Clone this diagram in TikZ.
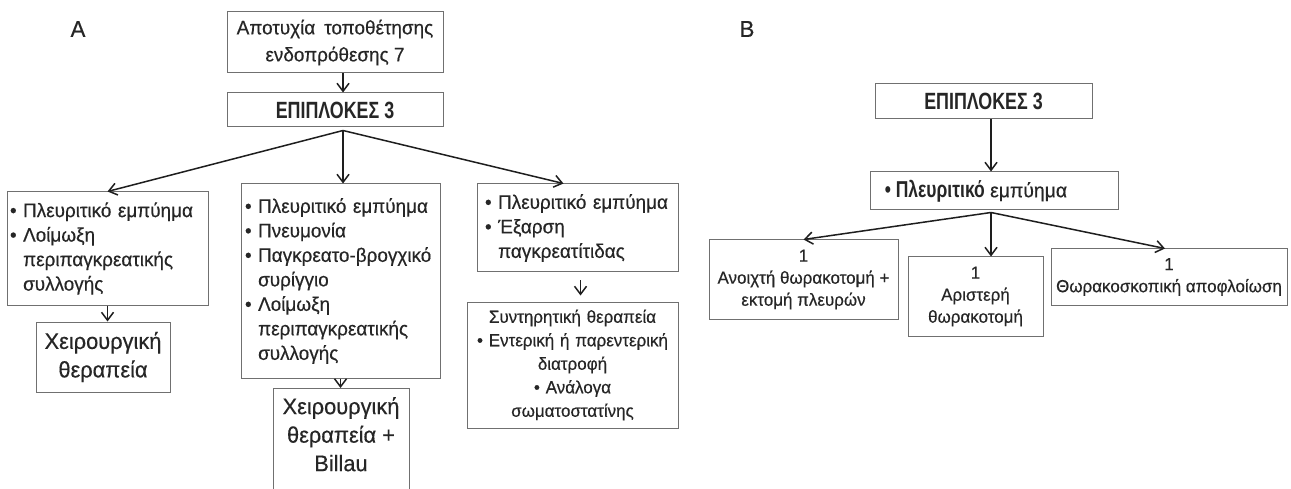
\documentclass[tikz,border=0pt]{standalone}
\usepackage{fontspec}
\setmainfont{Liberation Sans}[FakeStretch=0.97, FakeBold=0.4]
\newfontfamily\condfont{Liberation Sans}[FakeStretch=0.76]
\usetikzlibrary{arrows.meta}
\definecolor{txtcol}{HTML}{262626}
\definecolor{boxcol}{HTML}{707070}
\definecolor{arrcol}{HTML}{1E1E1E}
\newcommand\bul{\textbullet\ }
\newcommand\ind{\phantom{\textbullet\ }}
\newcommand\fM{\fontsize{19.5}{24.5}\selectfont}
\newcommand\fS{\fontsize{17.5}{23.5}\selectfont}
\newcommand\fB{\fontsize{17.5}{22}\selectfont}
\newcommand\fL{\fontsize{22.5}{28.5}\selectfont}
\newcommand\fH{\condfont\bfseries\fontsize{23.5}{26}\selectfont}
\tikzset{
  box/.style={draw=boxcol, line width=1pt, text=txtcol, inner xsep=4pt, inner ysep=0pt, font=\fM},
  conn/.style={draw=arrcol, line width=1.5pt, -{Straight Barb[length=8pt,width=12pt,line width=1.5pt]}},
  plab/.style={text=txtcol, font=\fontsize{23}{25}\selectfont}
}
\begin{document}
\begin{tikzpicture}[x=1pt,y=-1pt]
\useasboundingbox[fill=white] (0,0) rectangle (1291,489);

% panel labels
\node[plab] (labA) at (78,29) {A};
\node[plab] (labB) at (747,29) {B};

% ---------- panel A ----------
\node[box, minimum width=216pt, minimum height=61pt, align=center, font=\fontsize{19.5}{27}\selectfont] (top) at (335,42.5)
  {Αποτυχία\hspace{9pt}τοποθέτησης\\ενδοπρόθεσης 7};
\node[box, minimum width=216pt, minimum height=34pt, font=\fH] (comp) at (335,110) {ΕΠΙΠΛΟΚΕΣ 3};
\coordinate (hubA) at ([xshift=8pt,yshift=-3pt]comp.south);

\node[box, text width=195pt, inner xsep=3pt, minimum height=113pt, align=left] (L1) at (107.5,248.5)
  {\bul Πλευριτικό εμπύημα\\\bul Λοίμωξη\\\ind περιπαγκρεατικής\\\ind συλλογής};
\node[box, minimum width=134pt, minimum height=70pt, align=center, font=\fL] (L2) at (103,357)
  {Χειρουργική\\θεραπεία};

\node[box, text width=191pt, minimum height=194pt, align=left] (M1) at (340.5,281)
  {\bul Πλευριτικό εμπύημα\\\bul Πνευμονία\\\bul Παγκρεατο-βρογχικό\\\ind συρίγγιο\\\bul Λοίμωξη\\\ind περιπαγκρεατικής\\\ind συλλογής};
\node[box, minimum width=136pt, minimum height=130pt, anchor=north] (M2) at (341,388) {};
\node[text=txtcol, font=\fL, align=center, anchor=north, inner sep=0pt] (M2t) at ([yshift=-9pt]M2.north)
  {Χειρουργική\\θεραπεία +\\Billau};

\node[box, text width=185pt, inner xsep=8pt, minimum height=88pt, align=left] (R1) at (577.5,228)
  {\bul Πλευριτικό εμπύημα\\\bul Έξαρση\\\ind παγκρεατίτιδας};
\node[box, text width=203pt, minimum height=126pt, align=center, font=\fS] (R2) at (572.5,365)
  {Συντηρητική θεραπεία\\\bul Εντερική ή παρεντερική\\διατροφή\\\bul Ανάλογα\\σωματοστατίνης};

\draw[conn] ([xshift=8pt]top.south) -- ([xshift=8pt]comp.north);
\draw[conn] (hubA) -- (L1.north);
\draw[conn] (hubA) -- (hubA |- M1.north);
\draw[conn] (hubA) -- ([xshift=-14pt]R1.north);
\draw[conn] (L1.south) -- (L1.south |- L2.north);
\draw[conn] (M1.south) -- (M1.south |- M2.north);
\draw[conn, shorten <=8pt, shorten >=6pt] ([xshift=3pt]R1.south) -- ([xshift=3pt]R1.south |- R2.north);

% ---------- panel B ----------
\node[box, minimum width=217pt, minimum height=35pt, font=\fH] (Bcomp) at (983.5,101.5) {ΕΠΙΠΛΟΚΕΣ 3};
\node[box, minimum width=248pt, minimum height=38pt, align=left] (BP) at (994,191)
  {{\condfont\bfseries\fontsize{23}{24}\selectfont\bul Πλευριτικό} {\fontsize{20}{24}\selectfont εμπύημα}\hspace{36pt}};
\coordinate (hubB) at ([xshift=-3pt,yshift=-2pt]BP.south);

\node[box, minimum width=189pt, minimum height=79pt, align=center, font=\fB] (BL) at (803.5,279.5)
  {1\\Ανοιχτή θωρακοτομή +\\εκτομή πλευρών};
\node[box, minimum width=135pt, minimum height=79pt, align=center, font=\fB] (BM) at (975.5,296.5)
  {1\\Αριστερή\\θωρακοτομή};
\node[box, minimum width=236pt, minimum height=56pt, align=center, font=\fB] (BR) at (1169,277)
  {1\\Θωρακοσκοπική αποφλοίωση};

\draw[conn] ([xshift=7.5pt]Bcomp.south) -- ([xshift=7.5pt]Bcomp.south |- BP.north);
\draw[conn] (hubB) -- (BL.north);
\draw[conn] (hubB) -- (hubB |- BM.north);
\draw[conn] (hubB) -- ([xshift=-4pt]BR.north);
\end{tikzpicture}
\end{document}
